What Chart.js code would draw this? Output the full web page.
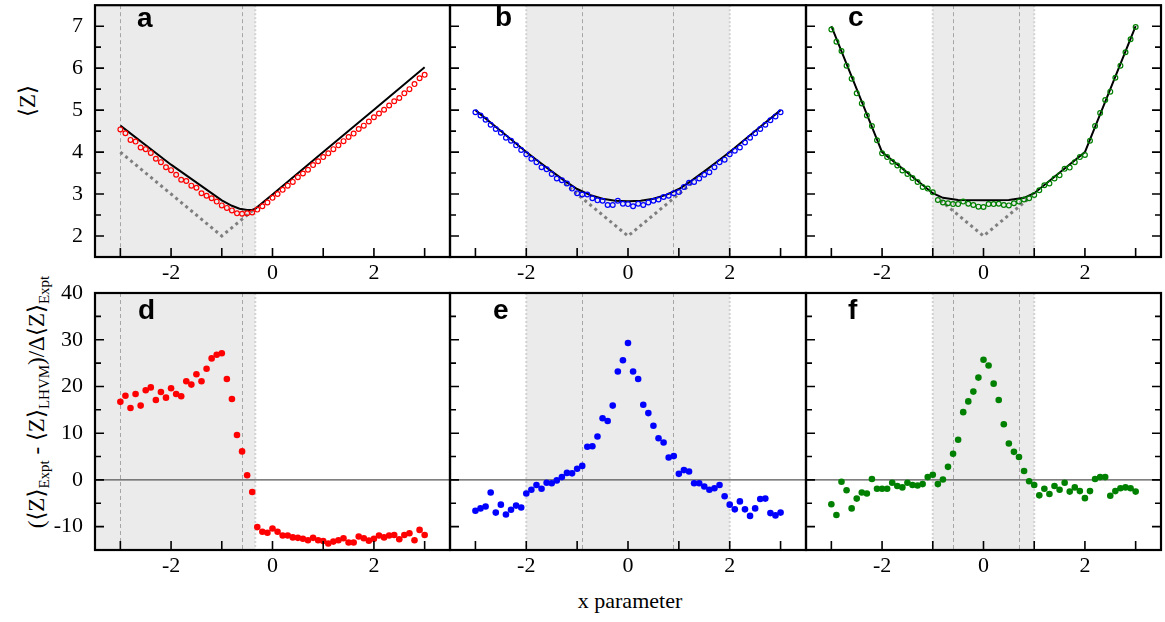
<!DOCTYPE html>
<html>
<head>
<meta charset="utf-8">
<script src="https://cdn.jsdelivr.net/npm/chart.js@4.4.0/dist/chart.umd.min.js"></script>
<style>
  body { margin: 0; width: 1165px; height: 622px; background: #fff; position: relative; overflow: hidden;
         font-family: "Liberation Serif", "DejaVu Serif", "Times New Roman", Times, serif; color: #000; }
  canvas { position: absolute; z-index: 1; }
  .tag { position: absolute; z-index: 2; font: bold 28px/28px "Liberation Sans", Arial, "DejaVu Sans", sans-serif; }
  .ytitle { position: absolute; white-space: nowrap; font-size: 23px; line-height: 23px;
            transform: translate(-50%, -50%) rotate(-90deg); }
  .ytitle sub { font-size: 15px; vertical-align: -5px; }
  .xtitle { position: absolute; font-size: 22px; line-height: 22px; transform: translateX(-50%); white-space: nowrap; }
</style>
</head>
<body>
<div class="ytitle" style="left:27px;top:101px">⟨Z⟩</div>
<div class="ytitle" style="left:40px;top:402px">(⟨Z⟩<sub>Expt</sub> - ⟨Z⟩<sub>LHVM</sub>)/Δ⟨Z⟩<sub>Expt</sub></div>
<div class="xtitle" style="left:630px;top:590px">x parameter</div>
<div class="tag" style="left:137px;top:4px">a</div>
<div class="tag" style="left:495px;top:3px">b</div>
<div class="tag" style="left:848px;top:3px">c</div>
<div class="tag" style="left:138px;top:296px">d</div>
<div class="tag" style="left:493px;top:296px">e</div>
<div class="tag" style="left:848px;top:296px">f</div>
<script>
// x grid shared by all measured series
const xGrid = [-3.0,-2.9,-2.8,-2.7,-2.6,-2.5,-2.4,-2.3,-2.2,-2.1,-2.0,-1.9,-1.8,-1.7,-1.6,-1.5,-1.4,-1.3,-1.2,-1.1,
  -1.0,-0.9,-0.8,-0.7,-0.6,-0.5,-0.4,-0.3,-0.2,-0.1,0.0,0.1,0.2,0.3,0.4,0.5,0.6,0.7,0.8,0.9,
  1.0,1.1,1.2,1.3,1.4,1.5,1.6,1.7,1.8,1.9,2.0,2.1,2.2,2.3,2.4,2.5,2.6,2.7,2.8,2.9,3.0];

// <Z> measured (open circles)
const zA = [4.54,4.45,4.29,4.25,4.11,4.07,3.98,3.84,3.76,3.64,3.57,3.46,3.34,3.31,3.20,3.15,3.02,2.96,2.90,2.82,
  2.73,2.67,2.61,2.54,2.53,2.54,2.56,2.63,2.71,2.80,2.91,3.00,3.10,3.20,3.29,3.40,3.49,3.58,3.69,3.78,
  3.88,3.97,4.07,4.16,4.26,4.36,4.44,4.55,4.63,4.73,4.83,4.92,5.01,5.11,5.21,5.29,5.40,5.50,5.62,5.76,5.84];
const zB = [4.95,4.87,4.77,4.65,4.55,4.46,4.34,4.27,4.16,4.05,3.95,3.84,3.76,3.64,3.59,3.48,3.37,3.33,3.25,3.13,
  3.02,2.99,2.99,2.90,2.85,2.84,2.74,2.74,2.84,2.77,2.76,2.71,2.77,2.74,2.80,2.84,2.87,2.93,2.96,3.02,
  3.05,3.17,3.27,3.29,3.37,3.46,3.52,3.64,3.76,3.82,3.95,4.03,4.11,4.23,4.34,4.45,4.55,4.65,4.76,4.85,4.95];
const zC = [6.92,6.63,6.41,6.06,5.75,5.40,5.16,4.87,4.62,4.28,3.97,3.88,3.77,3.68,3.56,3.48,3.38,3.29,3.17,3.13,
  3.04,2.86,2.80,2.78,2.76,2.76,2.82,2.77,2.74,2.70,2.69,2.76,2.76,2.77,2.74,2.73,2.78,2.82,2.87,2.90,
  2.98,3.09,3.21,3.25,3.37,3.45,3.60,3.63,3.76,3.88,3.93,4.27,4.62,4.93,5.24,5.44,5.77,6.06,6.38,6.69,6.98];

// normalised deviation (filled dots)
const devD = [16.7,18.0,15.4,18.4,15.9,19.2,19.8,17.1,18.8,17.6,19.6,18.4,17.9,21.1,20.4,22.6,21.1,23.8,26.0,26.8,
  27.1,21.6,17.3,9.6,6.1,1.0,-2.6,-10.1,-11.1,-11.3,-10.4,-11.1,-11.9,-11.9,-12.3,-12.4,-12.6,-12.9,-12.4,-12.9,
  -13.1,-13.6,-13.2,-12.9,-12.5,-13.4,-13.4,-12.1,-12.5,-13.0,-12.6,-11.9,-12.3,-11.9,-11.8,-12.7,-11.8,-11.4,-12.9,-10.7,-11.8];
const devE = [-6.6,-6.1,-5.7,-2.7,-7.0,-5.3,-7.4,-6.4,-5.5,-5.9,-2.9,-2.1,-1.1,-1.9,-0.6,-0.7,-0.1,0.6,1.5,1.4,
  2.4,3.0,7.1,7.2,9.3,13.2,12.6,15.9,23.2,25.6,29.3,23.2,21.6,16.1,14.3,11.6,8.9,8.0,4.8,5.1,
  1.3,2.1,1.8,-0.7,-0.7,-1.4,-2.1,-1.8,-1.1,-3.5,-5.3,-6.3,-4.6,-6.3,-7.7,-6.1,-4.1,-4.0,-7.1,-7.6,-7.0];
const devF = [-5.2,-7.5,-0.4,-2.2,-6.1,-4.0,-2.7,-2.9,0.2,-1.9,-1.9,-1.9,-0.6,-1.3,-1.6,-0.6,-1.1,-1.2,-0.9,0.6,
  1.1,-0.9,0.1,2.8,5.6,8.6,14.5,16.8,18.9,21.9,25.7,24.5,20.6,17.1,11.9,7.8,6.0,4.9,1.9,-0.3,
  -1.1,-3.3,-1.9,-3.0,-1.3,-2.1,-0.6,-2.5,-1.6,-2.4,-3.9,-2.4,0.2,0.6,0.6,-3.4,-2.4,-1.8,-1.6,-1.8,-2.5];

// model curves (solid black)
const fitAx = [-3,-2,-1,-0.8,-0.65,-0.5,-0.4,-0.33,0,1,2,3];
const fitAy = [4.63,3.70,2.85,2.72,2.65,2.62,2.62,2.66,2.99,4.0,5.01,6.02];
const fitBx = [-3,-2.5,-2,-1.75,-1.5,-1.25,-1,-0.75,-0.5,-0.25,0,0.25,0.5,0.75,1,1.25,1.5,1.75,2,2.5,3];
const fitBy = [5.0,4.5,4.0,3.77,3.54,3.32,3.12,2.98,2.89,2.84,2.83,2.84,2.89,2.98,3.12,3.32,3.54,3.77,4.0,4.5,5.0];
const fitCx = [-3,-2,-1,-0.8,-0.5,0,0.5,0.8,1,2,3];
const fitCy = [7.0,4.0,3.02,2.91,2.86,2.85,2.86,2.91,3.02,4.0,7.0];

// bound (grey dotted)
const vAx = [-3,-1,-0.33], vAy = [4.0,2.0,2.67];
const vBx = [-1.25,0,1.25], vBy = [3.25,2.0,3.25];
const vCx = [-0.85,0,0.9], vCy = [2.85,2.0,2.9];

// shaded windows and dashed markers
const shadeA = [-3.5,-0.34], shadeB = [-2,2], shadeC = [-1,1];
const dashA = [-3,-0.6], dashB = [-0.9,0.88], dashC = [-0.6,0.7];

// ticks
const xLabels = [-2,0,2];
const xMarks = [-3,-2,-1,0,1,2,3];
const topYTicks = [2,3,4,5,6,7], topYMinor = [2.5,3.5,4.5,5.5,6.5];
const botYTicks = [-10,0,10,20,30,40], botYMinor = [-5,5,15,25,35];

Chart.defaults.font.family = '"Liberation Serif", "DejaVu Serif", "Times New Roman", Times, serif';
Chart.defaults.font.size = 22;
Chart.defaults.color = '#000';

const pts = (xs, ys) => xs.map((x, i) => ({x, y: ys[i]}));

const deco = {
  id: 'deco',
  beforeDatasetsDraw(chart, args, o) {
    const {ctx, chartArea: a, scales: {x, y}} = chart;
    ctx.save();
    const s0 = Math.max(a.left, x.getPixelForValue(o.shade[0]));
    const s1 = Math.min(a.right, x.getPixelForValue(o.shade[1]));
    ctx.fillStyle = '#ebebeb';
    ctx.fillRect(s0, a.top, s1 - s0, a.bottom - a.top);
    ctx.strokeStyle = '#d2d2d2'; ctx.lineWidth = 2; ctx.setLineDash([2, 2]);
    o.shade.forEach(v => {
      if (v <= x.min || v >= x.max) return;
      const px = x.getPixelForValue(v);
      ctx.beginPath(); ctx.moveTo(px, a.top); ctx.lineTo(px, a.bottom); ctx.stroke();
    });
    ctx.strokeStyle = '#a6a6a6'; ctx.lineWidth = 1; ctx.setLineDash([4, 3]);
    o.dashes.forEach(v => {
      const px = Math.round(x.getPixelForValue(v)) + 0.5;
      ctx.beginPath(); ctx.moveTo(px, a.top); ctx.lineTo(px, a.bottom); ctx.stroke();
    });
    if (o.zero) {
      ctx.setLineDash([]); ctx.strokeStyle = '#555'; ctx.lineWidth = 1.2;
      const py = y.getPixelForValue(0);
      ctx.beginPath(); ctx.moveTo(a.left, py); ctx.lineTo(a.right, py); ctx.stroke();
    }
    ctx.restore();
  },
  afterDraw(chart, args, o) {
    const {ctx, chartArea: a, scales: {x, y}} = chart;
    ctx.save();
    ctx.strokeStyle = '#000'; ctx.lineWidth = 1.6;
    ctx.beginPath();
    xMarks.forEach(v => {
      const px = x.getPixelForValue(v);
      ctx.moveTo(px, a.bottom); ctx.lineTo(px, a.bottom - 9);
    });
    const tk = (v, len) => {
      const py = y.getPixelForValue(v);
      ctx.moveTo(a.left, py); ctx.lineTo(a.left + len, py);
      if (o.right) { ctx.moveTo(a.right, py); ctx.lineTo(a.right - len, py); }
    };
    o.major.forEach(v => tk(v, 9));
    o.minor.forEach(v => tk(v, 6));
    ctx.stroke();
    ctx.lineWidth = 2.2;
    ctx.strokeRect(a.left, a.top, a.right - a.left, a.bottom - a.top);
    ctx.restore();
  }
};

function panel(p) {
  const cv = document.createElement('canvas');
  const first = p.L < 100;
  const padL = first ? 0 : 8, padR = 8, axisH = 34;
  const cLeft = first ? 0 : p.L - padL;
  const cTop = Math.max(0, p.T - 14);
  cv.width = p.R + padR - cLeft;
  cv.height = p.B - cTop + axisH;
  cv.style.left = cLeft + 'px';
  cv.style.top = cTop + 'px';
  document.body.appendChild(cv);
  new Chart(cv, {
    type: 'scatter',
    data: {datasets: p.datasets},
    options: {
      responsive: false, animation: false, devicePixelRatio: 1,
      layout: {padding: {left: padL, right: padR, top: p.T - cTop, bottom: 0}},
      plugins: {legend: {display: false}, tooltip: {enabled: false},
        deco: {shade: p.shade, dashes: p.dashes, zero: p.zero, major: p.major, minor: p.minor, right: p.right}},
      scales: {
        x: {
          type: 'linear', min: -3.5, max: 3.5,
          grid: {display: false, drawTicks: false}, border: {display: false},
          ticks: {padding: 3, font: {size: 22}},
          afterBuildTicks: s => { s.ticks = xLabels.map(v => ({value: v})); },
          afterFit: s => { s.height = axisH; s.paddingLeft = 0; s.paddingRight = 0; }
        },
        y: {
          type: 'linear', min: p.ymin, max: p.ymax, display: first,
          grid: {display: false, drawTicks: false}, border: {display: false},
          ticks: {padding: 12, font: {size: 22}},
          afterBuildTicks: s => { s.ticks = p.major.map(v => ({value: v})); },
          afterFit: s => { s.width = first ? p.L : 0; s.paddingTop = 0; s.paddingBottom = 0; }
        }
      }
    },
    plugins: [deco]
  });
}

function topSets(z, fx, fy, vx, vy, col) {
  return [
    {data: pts(xGrid, z), pointRadius: 2.4, borderWidth: 1.2, borderColor: col, backgroundColor: 'rgba(0,0,0,0)'},
    {data: pts(fx, fy), showLine: true, pointRadius: 0, borderColor: '#000', borderWidth: 2},
    {data: pts(vx, vy), showLine: true, pointRadius: 0, borderColor: '#7f7f7f', borderWidth: 3, borderDash: [3, 3.5]}
  ];
}
function botSets(d, col) {
  return [{data: pts(xGrid, d), pointRadius: 3.3, borderWidth: 0, backgroundColor: col}];
}

const cols = [[95, 450], [450, 806], [806, 1161]];
const topRow = {T: 1, B: 257, ymin: 1.5, ymax: 7.5, major: topYTicks, minor: topYMinor};
const botRow = {T: 293, B: 550, ymin: -15, ymax: 40, major: botYTicks, minor: botYMinor, zero: true};

panel({...topRow, L: cols[0][0], R: cols[0][1], shade: shadeA, dashes: dashA, datasets: topSets(zA, fitAx, fitAy, vAx, vAy, '#ff0000')});
panel({...topRow, L: cols[1][0], R: cols[1][1], shade: shadeB, dashes: dashB, datasets: topSets(zB, fitBx, fitBy, vBx, vBy, '#0000ff')});
panel({...topRow, L: cols[2][0], R: cols[2][1], shade: shadeC, dashes: dashC, right: true, datasets: topSets(zC, fitCx, fitCy, vCx, vCy, '#008000')});
panel({...botRow, L: cols[0][0], R: cols[0][1], shade: shadeA, dashes: dashA, datasets: botSets(devD, '#ff0000')});
panel({...botRow, L: cols[1][0], R: cols[1][1], shade: shadeB, dashes: dashB, datasets: botSets(devE, '#0000ff')});
panel({...botRow, L: cols[2][0], R: cols[2][1], shade: shadeC, dashes: dashC, right: true, datasets: botSets(devF, '#008000')});
</script>
</body>
</html>
